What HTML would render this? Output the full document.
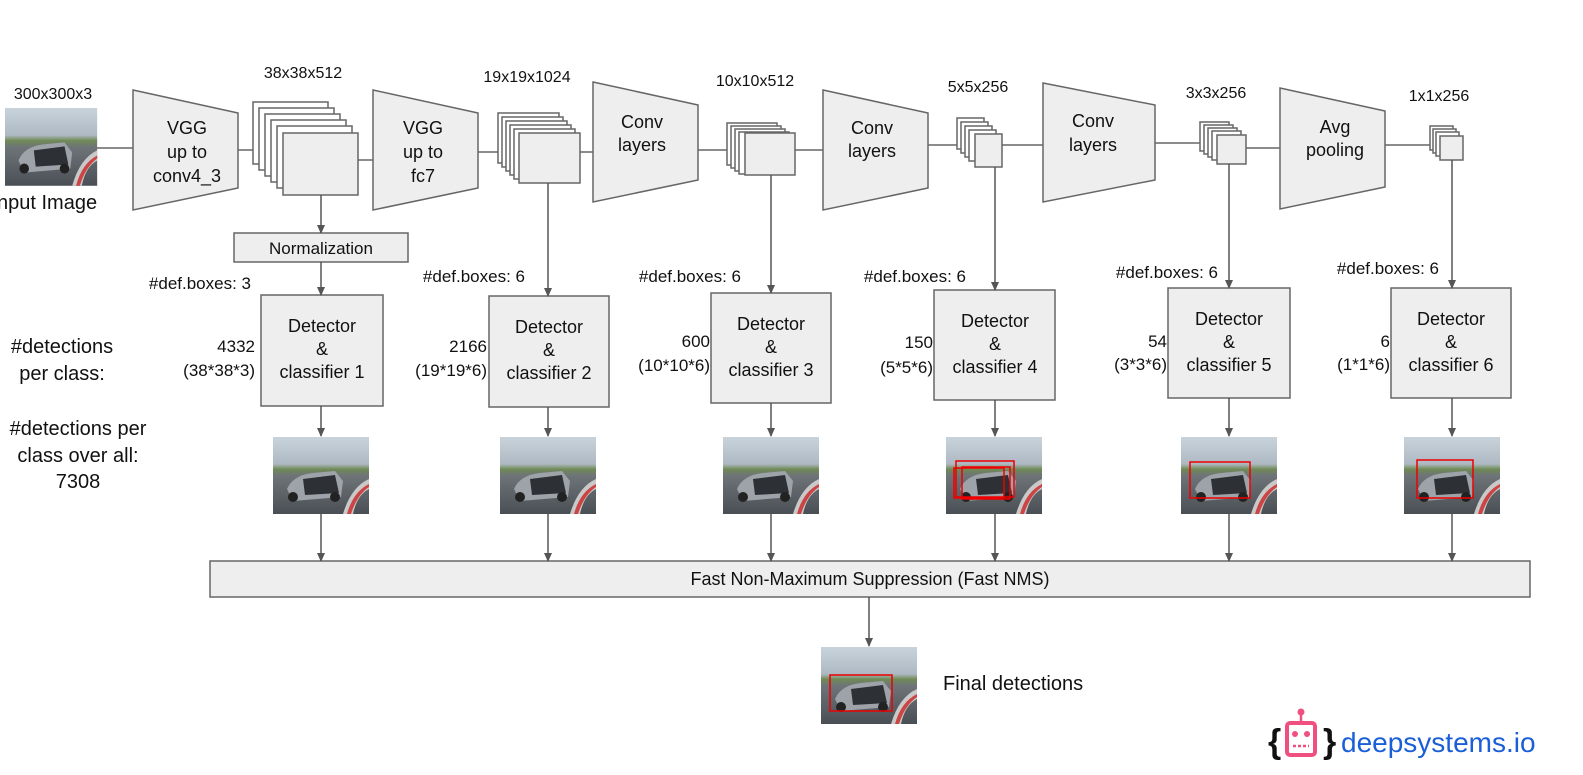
<!DOCTYPE html>
<html><head><meta charset="utf-8"><style>
body{margin:0;background:#fff}
svg text{font-family:"Liberation Sans",Arial,sans-serif;fill:#111}
</style></head><body>
<svg width="1583" height="770" viewBox="0 0 1583 770" xmlns="http://www.w3.org/2000/svg">
<defs>
<marker id="a" markerWidth="10" markerHeight="10" refX="8" refY="5" orient="auto" markerUnits="userSpaceOnUse"><path d="M0,1 L9,5 L0,9 z" fill="#555"/></marker>
<linearGradient id="sky" x1="0" y1="0" x2="0" y2="1">
<stop offset="0" stop-color="#c9d3dc"/><stop offset="0.35" stop-color="#aeb9c3"/><stop offset="0.42" stop-color="#6f8a55"/><stop offset="0.5" stop-color="#6e7478"/><stop offset="1" stop-color="#4a4f55"/></linearGradient>
<g id="car">
<rect x="0" y="0" width="96" height="77" fill="url(#sky)"/>
<path d="M70,77 Q78,50 96,42 L96,52 Q84,58 80,77 z" fill="#c9c9c9"/>
<path d="M74,77 Q80,55 96,47 L96,50 Q84,58 78,77z" fill="#c44"/>
<path d="M14,52 Q20,38 40,36 L62,34 L70,44 L68,60 L20,64 z" fill="#9ea3aa"/>
<path d="M30,42 L62,38 L66,56 L32,58 z" fill="#2d3035"/>
<circle cx="20" cy="60" r="5" fill="#222"/><circle cx="62" cy="60" r="5" fill="#222"/>
</g>
</defs>
<g fill="#eeeeee" stroke="#666" stroke-width="1.5">
<!-- connectors -->
<line x1="97" y1="148" x2="133" y2="148"/>
<line x1="238" y1="150" x2="253" y2="150"/>
<line x1="358" y1="160" x2="373" y2="160"/>
<line x1="478" y1="152" x2="498" y2="152"/>
<line x1="580" y1="152" x2="593" y2="152"/>
<line x1="698" y1="150" x2="727" y2="150"/>
<line x1="795" y1="150" x2="823" y2="150"/>
<line x1="928" y1="145" x2="957" y2="145"/>
<line x1="1002" y1="145" x2="1043" y2="145"/>
<line x1="1155" y1="143" x2="1200" y2="143"/>
<line x1="1246" y1="148" x2="1280" y2="148"/>
<line x1="1385" y1="145" x2="1430" y2="145"/>
<!-- trapezoids -->
<polygon points="133,90 238,113 238,188 133,210"/>
<polygon points="373,90 478,113 478,188 373,210"/>
<polygon points="593,82 698,105 698,180 593,202"/>
<polygon points="823,90 928,113 928,188 823,210"/>
<polygon points="1043,83 1155,105 1155,180 1043,202"/>
<polygon points="1280,88 1385,111 1385,187 1280,209"/>
<!-- stacks -->
<rect x="253" y="102" width="75" height="62" fill="#fff"/><rect x="259" y="108" width="75" height="62" fill="#fff"/><rect x="265" y="114" width="75" height="62" fill="#fff"/><rect x="271" y="120" width="75" height="62" fill="#fff"/><rect x="277" y="126" width="75" height="62" fill="#fff"/><rect x="283" y="133" width="75" height="62"/>
<rect x="498" y="113" width="61" height="50" fill="#fff"/><rect x="502" y="117" width="61" height="50" fill="#fff"/><rect x="506" y="121" width="61" height="50" fill="#fff"/><rect x="510" y="125" width="61" height="50" fill="#fff"/><rect x="514" y="129" width="61" height="50" fill="#fff"/><rect x="519" y="133" width="61" height="50"/>
<rect x="727" y="123" width="50" height="42" fill="#fff"/><rect x="731" y="126" width="50" height="42" fill="#fff"/><rect x="735" y="129" width="50" height="42" fill="#fff"/><rect x="739" y="132" width="50" height="42" fill="#fff"/><rect x="745" y="133" width="50" height="42"/>
<rect x="957" y="118" width="27" height="31" fill="#fff"/><rect x="961" y="122" width="27" height="31" fill="#fff"/><rect x="965" y="126" width="27" height="31" fill="#fff"/><rect x="969" y="130" width="27" height="31" fill="#fff"/><rect x="975" y="134" width="27" height="33"/>
<rect x="1200" y="122" width="29" height="29" fill="#fff"/><rect x="1204" y="125" width="29" height="29" fill="#fff"/><rect x="1208" y="128" width="29" height="29" fill="#fff"/><rect x="1212" y="131" width="29" height="29" fill="#fff"/><rect x="1217" y="135" width="29" height="29"/>
<rect x="1430" y="126" width="23" height="24" fill="#fff"/><rect x="1433" y="129" width="23" height="24" fill="#fff"/><rect x="1436" y="132" width="23" height="24" fill="#fff"/><rect x="1440" y="136" width="23" height="24"/>
<!-- boxes -->
<rect x="234" y="233" width="174" height="29"/>
<rect x="261" y="295" width="122" height="111"/>
<rect x="489" y="296" width="120" height="111"/>
<rect x="711" y="293" width="120" height="110"/>
<rect x="934" y="290" width="121" height="110"/>
<rect x="1168" y="288" width="122" height="110"/>
<rect x="1391" y="288" width="120" height="110"/>
<rect x="210" y="561" width="1320" height="36"/>
</g>
<g stroke="#555" stroke-width="1.5" marker-end="url(#a)">
<line x1="321" y1="195" x2="321" y2="233"/><line x1="321" y1="262" x2="321" y2="295"/>
<line x1="548" y1="183" x2="548" y2="296"/><line x1="771" y1="175" x2="771" y2="293"/>
<line x1="995" y1="167" x2="995" y2="290"/><line x1="1229" y1="164" x2="1229" y2="288"/>
<line x1="1452" y1="160" x2="1452" y2="288"/>
<line x1="321" y1="406" x2="321" y2="436"/><line x1="548" y1="407" x2="548" y2="436"/>
<line x1="771" y1="403" x2="771" y2="436"/><line x1="995" y1="400" x2="995" y2="436"/>
<line x1="1229" y1="398" x2="1229" y2="436"/><line x1="1452" y1="398" x2="1452" y2="436"/>
<line x1="321" y1="514" x2="321" y2="561"/><line x1="548" y1="514" x2="548" y2="561"/>
<line x1="771" y1="514" x2="771" y2="561"/><line x1="995" y1="514" x2="995" y2="561"/>
<line x1="1229" y1="514" x2="1229" y2="561"/><line x1="1452" y1="514" x2="1452" y2="561"/>
<line x1="869" y1="597" x2="869" y2="646"/>
</g>
<!-- images -->
<use href="#car" transform="translate(5,108) scale(0.96,1.01)"/>
<use href="#car" x="273" y="437"/><use href="#car" x="500" y="437"/><use href="#car" x="723" y="437"/>
<use href="#car" x="946" y="437"/><use href="#car" x="1181" y="437"/><use href="#car" x="1404" y="437"/>
<use href="#car" x="821" y="647"/>
<g fill="none" stroke="#e00" stroke-width="1.5">
<rect x="956" y="461" width="58" height="36"/><rect x="962" y="467" width="48" height="32"/><rect x="954" y="468" width="50" height="30"/>
<rect x="1190" y="462" width="60" height="36"/>
<rect x="1417" y="460" width="56" height="38"/>
<rect x="830" y="675" width="62" height="36"/>
</g>
<!-- text -->
<g font-size="16" text-anchor="middle">
<text x="53" y="99">300x300x3</text>
<text x="303" y="78">38x38x512</text>
<text x="527" y="82">19x19x1024</text>
<text x="755" y="86">10x10x512</text>
<text x="978" y="92">5x5x256</text>
<text x="1216" y="98">3x3x256</text>
<text x="1439" y="101">1x1x256</text>
</g>
<text x="-3" y="209" font-size="20">nput Image</text>
<g font-size="18" text-anchor="middle">
<text x="187" y="134">VGG</text><text x="187" y="158">up to</text><text x="187" y="182">conv4_3</text>
<text x="423" y="134">VGG</text><text x="423" y="158">up to</text><text x="423" y="182">fc7</text>
<text x="642" y="128">Conv</text><text x="642" y="151">layers</text>
<text x="872" y="134">Conv</text><text x="872" y="157">layers</text>
<text x="1093" y="127">Conv</text><text x="1093" y="151">layers</text>
<text x="1335" y="133">Avg</text><text x="1335" y="156">pooling</text>
<text x="321" y="254" font-size="17">Normalization</text>
<text x="322" y="332">Detector</text><text x="322" y="355">&amp;</text><text x="322" y="378">classifier 1</text>
<text x="549" y="333">Detector</text><text x="549" y="356">&amp;</text><text x="549" y="379">classifier 2</text>
<text x="771" y="330">Detector</text><text x="771" y="353">&amp;</text><text x="771" y="376">classifier 3</text>
<text x="995" y="327">Detector</text><text x="995" y="350">&amp;</text><text x="995" y="373">classifier 4</text>
<text x="1229" y="325">Detector</text><text x="1229" y="348">&amp;</text><text x="1229" y="371">classifier 5</text>
<text x="1451" y="325">Detector</text><text x="1451" y="348">&amp;</text><text x="1451" y="371">classifier 6</text>
<text x="870" y="585">Fast Non-Maximum Suppression (Fast NMS)</text>
</g>
<g font-size="17" text-anchor="end">
<text x="251" y="289">#def.boxes: 3</text>
<text x="525" y="282">#def.boxes: 6</text>
<text x="741" y="282">#def.boxes: 6</text>
<text x="966" y="282">#def.boxes: 6</text>
<text x="1218" y="278">#def.boxes: 6</text>
<text x="1439" y="274">#def.boxes: 6</text>
<text x="255" y="352">4332</text><text x="255" y="376">(38*38*3)</text>
<text x="487" y="352">2166</text><text x="487" y="376">(19*19*6)</text>
<text x="710" y="347">600</text><text x="710" y="371">(10*10*6)</text>
<text x="933" y="348">150</text><text x="933" y="373">(5*5*6)</text>
<text x="1167" y="347">54</text><text x="1167" y="370">(3*3*6)</text>
<text x="1390" y="347">6</text><text x="1390" y="370">(1*1*6)</text>
</g>
<g font-size="20" text-anchor="middle">
<text x="62" y="353">#detections</text><text x="62" y="380">per class:</text>
<text x="78" y="435">#detections per</text><text x="78" y="462">class over all:</text><text x="78" y="488">7308</text>
</g>
<text x="943" y="690" font-size="20">Final detections</text>
<!-- logo -->
<text x="1268" y="753" font-size="34" font-weight="bold" style="fill:#111">{</text>
<text x="1323" y="753" font-size="34" font-weight="bold" style="fill:#111">}</text>
<rect x="1287" y="723" width="28" height="32" rx="3" fill="none" stroke="#f05080" stroke-width="4"/>
<line x1="1301" y1="723" x2="1301" y2="713" stroke="#f05080" stroke-width="2.5"/><circle cx="1301" cy="712" r="3.5" fill="#f05080"/>
<circle cx="1295" cy="734" r="3" fill="#f05080"/><circle cx="1307" cy="734" r="3" fill="#f05080"/>
<line x1="1293" y1="746" x2="1309" y2="746" stroke="#f05080" stroke-width="2.5" stroke-dasharray="3,2"/>
<text x="1341" y="752" font-size="28" style="fill:#1a5fd8">deepsystems.io</text>
</svg>
</body></html>
